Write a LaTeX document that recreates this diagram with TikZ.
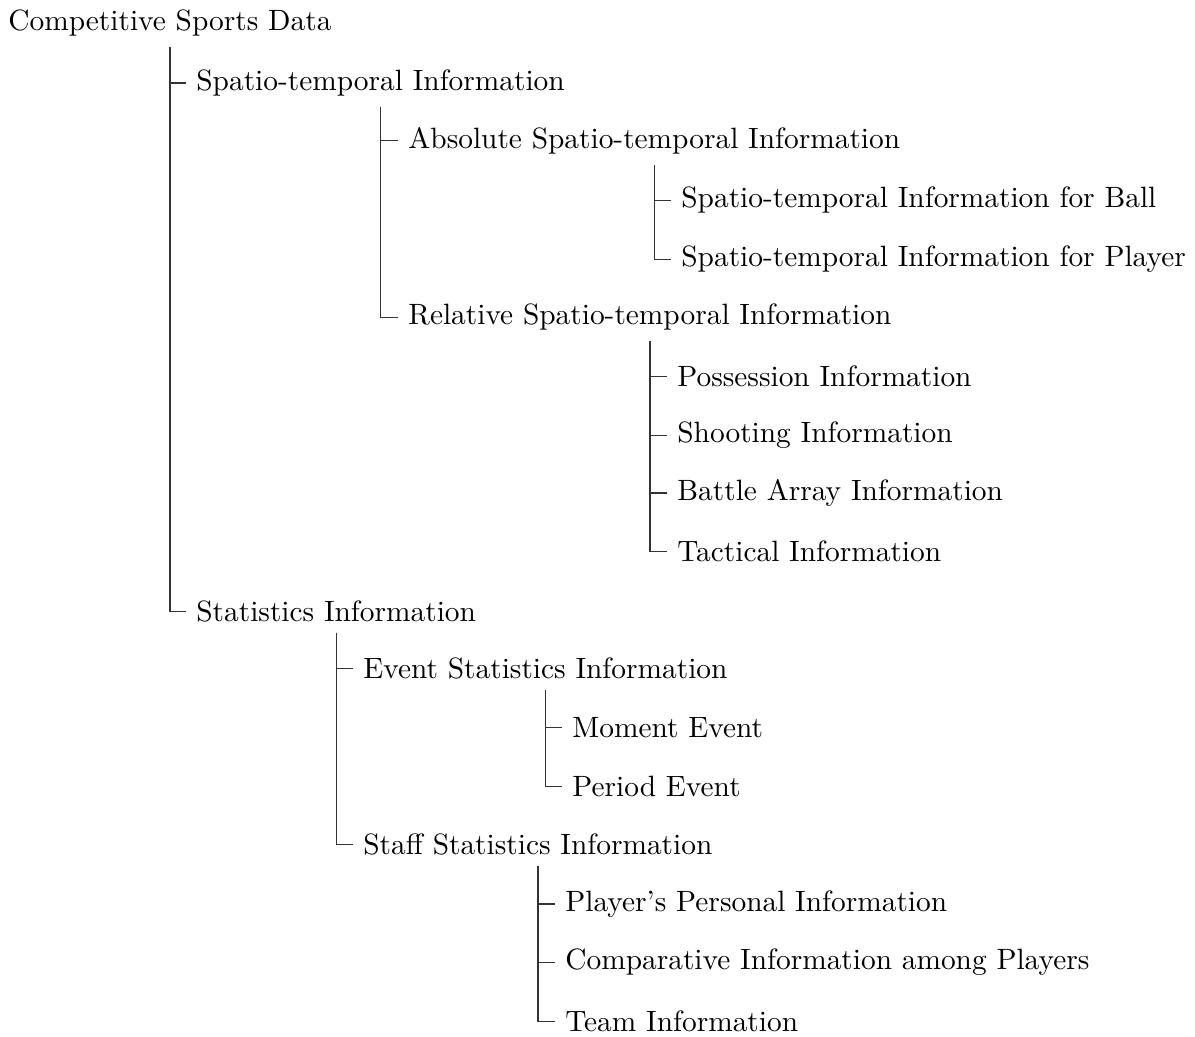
\documentclass[tikz,border=0pt]{standalone}
\usepackage{tikz}

\begin{document}
\begin{tikzpicture}[x=0.3403pt,y=-0.3403pt,
    item/.style={anchor=base west},
    link/.style={black!80,line width=0.45pt}]
  \useasboundingbox (0,0) rectangle (1195,1037);
  % root and first level
  \node[item] (csd)    at (-2,31)    {Competitive Sports Data};
  \node[item] (spt)    at (186,90.5) {Spatio-temporal Information};
  \node[item] (stat)   at (186,621.5) {Statistics Information};
  % spatio-temporal branch
  \node[item] (abs)    at (398,148.5) {Absolute Spatio-temporal Information};
  \node[item] (ball)   at (671,208)  {Spatio-temporal Information for Ball};
  \node[item] (plyr)   at (671,267)  {Spatio-temporal Information for Player};
  \node[item] (rel)    at (398,325)  {Relative Spatio-temporal Information};
  \node[item] (poss)   at (667,386.5) {Possession Information};
  \node[item] (shoot)  at (667,442.5) {Shooting Information};
  \node[item] (battle) at (667,500.5) {Battle Array Information};
  \node[item] (tact)   at (667,561.5) {Tactical Information};
  % statistics branch
  \node[item] (event)  at (353,678.5) {Event Statistics Information};
  \node[item] (moment) at (562,737.5) {Moment Event};
  \node[item] (period) at (562,796.5) {Period Event};
  \node[item] (staff)  at (353,854.5) {Staff Statistics Information};
  \node[item] (pers)   at (555,911.5) {Player's Personal Information};
  \node[item] (comp)   at (555,969.5) {Comparative Information among Players};
  \node[item] (team)   at (555,1031.5) {Team Information};

  \draw[link] (csd.south) |- (spt.west);
  \draw[link] (csd.south) |- (stat.west);
  \draw[link] (spt.south) |- (abs.west);
  \draw[link] (spt.south) |- (rel.west);
  \draw[link] (abs.south) |- (ball.west);
  \draw[link] (abs.south) |- (plyr.west);
  \draw[link] (rel.south) |- (poss.west);
  \draw[link] (rel.south) |- (shoot.west);
  \draw[link] (rel.south) |- (battle.west);
  \draw[link] (rel.south) |- (tact.west);
  \draw[link] (stat.south) |- (event.west);
  \draw[link] (stat.south) |- (staff.west);
  \draw[link] (event.south) |- (moment.west);
  \draw[link] (event.south) |- (period.west);
  \draw[link] (staff.south) |- (pers.west);
  \draw[link] (staff.south) |- (comp.west);
  \draw[link] (staff.south) |- (team.west);
\end{tikzpicture}
\end{document}
